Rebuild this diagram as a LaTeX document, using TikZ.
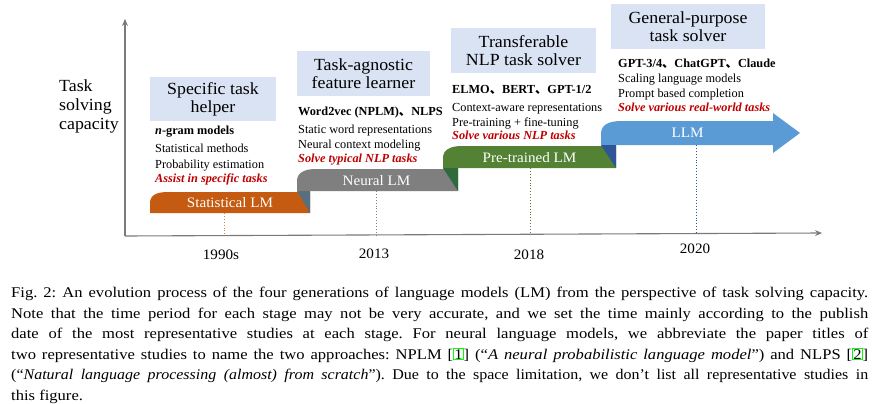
\documentclass[tikz,border=0pt]{standalone}
\usepackage{fontspec}
\setmainfont{Liberation Serif}
\newfontfamily\headfont[FakeStretch=1.05]{Liberation Serif}
\newfontfamily\capfont[FakeStretch=1.12]{Liberation Serif}
\newfontfamily\capfontn[FakeStretch=1.08]{Liberation Serif}
\newfontfamily\cjkfont{Noto Sans CJK SC}
\usetikzlibrary{arrows.meta}
\definecolor{boxblue}{HTML}{DAE3F3}
\definecolor{orangeLM}{HTML}{C55A11}
\definecolor{slateFold}{HTML}{57707F}
\definecolor{grayLM}{HTML}{7F7F7F}
\definecolor{greenLM}{HTML}{548235}
\definecolor{greenFold}{HTML}{2E6A3B}
\definecolor{blueLM}{HTML}{5B9BD5}
\definecolor{blueFold}{HTML}{2F5597}
\definecolor{redtxt}{HTML}{C00000}
\definecolor{axisgray}{HTML}{7A7A7A}
\definecolor{orangeDot}{HTML}{E0803F}
\definecolor{linkgreen}{HTML}{00FF00}
\newcommand{\dun}{{\cjkfont 、}}
\newcommand{\linkbox}[1]{{\setlength{\fboxsep}{0.4pt}\setlength{\fboxrule}{0.7pt}\fcolorbox{linkgreen}{white}{#1}}}
\frenchspacing
\begin{document}
\begin{tikzpicture}[x=1pt,y=-1pt,
  headbox/.style={fill=boxblue, inner sep=0pt, align=center,
    font=\headfont\fontsize{17}{18}\selectfont},
  item/.style={anchor=base west, inner sep=0pt, font=\fontsize{12.3}{14}\selectfont},
  itemb/.style={anchor=base west, inner sep=0pt, font=\fontsize{12.3}{14}\selectfont\bfseries},
  itemr/.style={anchor=base west, inner sep=0pt, text=redtxt, font=\fontsize{12.3}{14}\selectfont\bfseries\itshape},
  bandlbl/.style={anchor=base, inner sep=0pt, text=white, font=\headfont\fontsize{14.4}{15}\selectfont},
  yearlbl/.style={anchor=base, inner sep=0pt, font=\headfont\fontsize{14.4}{15}\selectfont},
  axislbl/.style={anchor=base west, inner sep=0pt, font=\headfont\fontsize{17}{18}\selectfont},
  capline/.style={anchor=base west, inner sep=0pt, font=\capfont\fontsize{14.8}{20}\selectfont},
  caplinen/.style={anchor=base west, inner sep=0pt, font=\capfontn\fontsize{14.8}{20}\selectfont},
  axisline/.style={draw=axisgray, line width=1.1pt, -{Stealth[length=7pt,width=6pt,inset=2.5pt]}},
  dropline/.style={dotted, line width=0.9pt}
]
\useasboundingbox (0,0) rectangle (881,404);
\fill[white] (0,0) rectangle (881,404);

% axes
\coordinate (O) at (125,236);
\coordinate (Ytop) at (125,19);
\coordinate (Xend) at (822,233);
\draw[axisline] (O) -- (Ytop);
\draw[axisline] (O) -- (Xend);

% axis label
\node[axislbl] (ax1) at (59,92) {Task};
\node[axislbl] (ax2) at (59,110.5) {solving};
\node[axislbl] (ax3) at (59,129) {capacity};

% bands
\fill[orangeLM] (150,213) -- (150,203) .. controls (150,195) and (157,192) .. (168,192) -- (310,192) -- (310,213) -- cycle;
\fill[grayLM] (297,191) -- (297,181) .. controls (297,173) and (304,169) .. (316,169) -- (458,169) -- (458,191) -- cycle;
\fill[slateFold] (297,191) -- (310,191) -- (310,213) -- cycle;
\fill[greenLM] (443,168) -- (443,158) .. controls (443,150) and (450,146) .. (462,146) -- (616,146) -- (616,168) -- cycle;
\fill[greenFold] (443,168) -- (458,168) -- (458,191) -- cycle;
\fill[blueLM] (601,145) -- (601,134) .. controls (601,125) and (608,121) .. (622,121) -- (773,121) -- (773,113) -- (800,133) -- (773,153) -- (773,145) -- cycle;
\fill[blueFold] (601,145) -- (616,145) -- (616,168) -- cycle;

% band labels
\node[bandlbl] (b1) at (230,207.5) {Statistical LM};
\node[bandlbl] (b2) at (376.5,185.5) {Neural LM};
\node[bandlbl] (b3) at (529.5,162) {Pre-trained LM};
\node[bandlbl] (b4) at (687.5,137.5) {LLM};

% dotted drop lines
\coordinate (d1a) at (224,213); \coordinate (d1b) at (224,235.5);
\coordinate (d2a) at (376,191); \coordinate (d2b) at (376,235);
\coordinate (d3a) at (530,168); \coordinate (d3b) at (530,234);
\coordinate (d4a) at (696,145); \coordinate (d4b) at (696,233.5);
\draw[dropline, orangeDot] (d1a) -- (d1b);
\draw[dropline, grayLM] (d2a) -- (d2b);
\draw[dropline, greenLM] (d3a) -- (d3b);
\draw[dropline, blueFold] (d4a) -- (d4b);

% years
\node[yearlbl] (y1) at (221,259) {1990s};
\node[yearlbl] (y2) at (374,258) {2013};
\node[yearlbl] (y3) at (529,259) {2018};
\node[yearlbl] (y4) at (695,253.5) {2020};

% stage headings
\node[headbox, minimum width=126pt, minimum height=44pt] (h1) at (213,99) {Specific task\\helper};
\node[headbox, minimum width=133pt, minimum height=45pt] (h2) at (363.5,73.5) {Task-agnostic\\feature learner};
\node[headbox, minimum width=145pt, minimum height=45pt] (h3) at (523.5,50.5) {Transferable\\NLP task solver};
\node[headbox, minimum width=154pt, minimum height=45pt] (h4) at (688,26.5) {General-purpose\\task solver};

% stage 1 text
\node[itemb] (s1a) at (155,134.5) {\textit{n}-gram models};
\node[item]  (s1b) at (155,152) {Statistical methods};
\node[item]  (s1c) at (155,168) {Probability estimation};
\node[itemr] (s1d) at (155,182) {Assist in specific tasks};

% stage 2 text
\node[itemb] (s2a) at (298,115) {Word2vec (NPLM)\dun NLPS};
\node[item]  (s2b) at (298,133) {Static word representations};
\node[item]  (s2c) at (298,148) {Neural context modeling};
\node[itemr] (s2d) at (298,162) {Solve typical NLP tasks};

% stage 3 text
\node[itemb] (s3a) at (452,93) {ELMO\dun BERT\dun GPT-1/2};
\node[item]  (s3b) at (452,111) {Context-aware representations};
\node[item]  (s3c) at (452,126) {Pre-training + fine-tuning};
\node[itemr] (s3d) at (452,139.5) {Solve various NLP tasks};

% stage 4 text
\node[itemb] (s4a) at (618,67) {GPT-3/4\dun ChatGPT\dun Claude};
\node[item]  (s4b) at (618,82) {Scaling language models};
\node[item]  (s4c) at (618,97) {Prompt based completion};
\node[itemr] (s4d) at (618,111) {Solve various real-world tasks};

% caption
\node[capline] (c1) at (11,297.5) {\makebox[857pt][s]{Fig. 2: An evolution process of the four generations of language models (LM) from the perspective of task solving capacity.}};
\node[capline] (c2) at (11,318) {\makebox[857pt][s]{Note that the time period for each stage may not be very accurate, and we set the time mainly according to the publish}};
\node[capline] (c3) at (11,338.5) {\makebox[857pt][s]{date of the most representative studies at each stage. For neural language models, we abbreviate the paper titles of}};
\node[capline] (c4) at (11,359) {\makebox[857pt][s]{two representative studies to name the two approaches: NPLM [\linkbox{1}] (“\textit{A neural probabilistic language model}”) and NLPS [\linkbox{2}]}};
\node[caplinen] (c5) at (11,379.5) {\makebox[857pt][s]{(“\textit{Natural language processing (almost) from scratch}”). Due to the space limitation, we don’t list all representative studies in}};
\node[capline] (c6) at (11,400) {this figure.};
\end{tikzpicture}
\end{document}
